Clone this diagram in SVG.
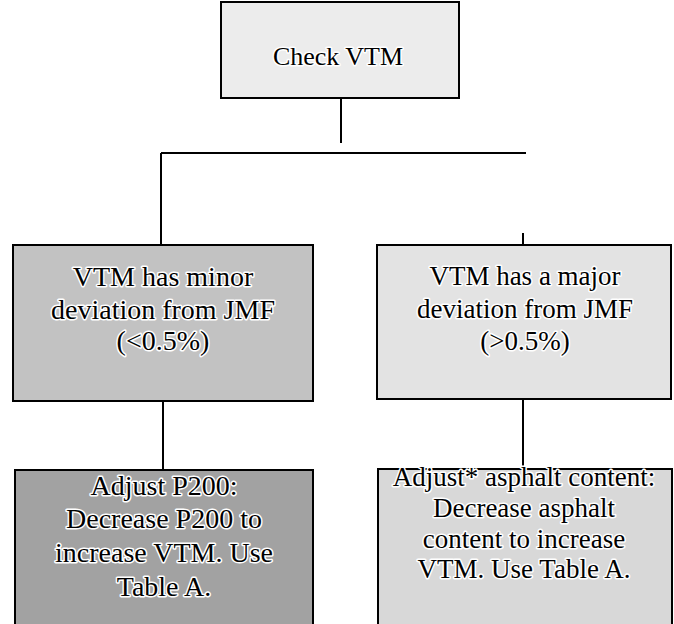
<svg xmlns="http://www.w3.org/2000/svg" width="674" height="624" viewBox="0 0 674 624">
<style>
.box{stroke:#000;stroke-width:2;}
.t{font-family:"Liberation Serif","Times New Roman",serif;fill:#000;text-anchor:middle;stroke:#fff;stroke-width:3;paint-order:stroke;stroke-linejoin:round;}
.c{stroke:#000;stroke-width:2;fill:none;}
</style>
<rect width="674" height="624" fill="#fff"/>
<g id="connectors">
<line class="c" x1="341" y1="98" x2="341" y2="143"/>
<line class="c" x1="161" y1="153" x2="526" y2="153"/>
<line class="c" x1="161" y1="153" x2="161" y2="245"/>
<line class="c" x1="523" y1="233" x2="523" y2="245"/>
<line class="c" x1="163" y1="401" x2="163" y2="470"/>
<line class="c" x1="523" y1="399" x2="523" y2="469"/>
</g>
<g id="check">
<rect class="box" x="221" y="2" width="238" height="96" fill="#ececec"/>
<text class="t" x="338" y="65" font-size="26">Check VTM</text>
</g>
<g id="minor">
<rect class="box" x="13" y="245" width="300" height="156" fill="#c2c2c2"/>
<text class="t" font-size="28"><tspan x="163" y="286">VTM has minor</tspan><tspan x="163" y="319">deviation from JMF</tspan><tspan x="163" y="350">(&lt;0.5%)</tspan></text>
</g>
<g id="major">
<rect class="box" x="377" y="245" width="294" height="154" fill="#e3e3e3"/>
<text class="t" font-size="27"><tspan x="525" y="285">VTM has a major</tspan><tspan x="525" y="318">deviation from JMF</tspan><tspan x="525" y="350">(&gt;0.5%)</tspan></text>
</g>
<g id="adjust-p200">
<rect class="box" x="15" y="470" width="298" height="160" fill="#a2a2a2"/>
<text class="t" font-size="28"><tspan x="164" y="495">Adjust P200:</tspan><tspan x="164" y="528">Decrease P200 to</tspan><tspan x="164" y="562">increase VTM. Use</tspan><tspan x="164" y="596">Table A.</tspan></text>
</g>
<g id="adjust-asphalt">
<rect class="box" x="378" y="469" width="294" height="160" fill="#d8d8d8"/>
<text class="t" font-size="27"><tspan x="524" y="486">Adjust* asphalt content:</tspan><tspan x="524" y="517">Decrease asphalt</tspan><tspan x="524" y="548">content to increase</tspan><tspan x="524" y="578">VTM. Use Table A.</tspan></text>
</g>
</svg>
